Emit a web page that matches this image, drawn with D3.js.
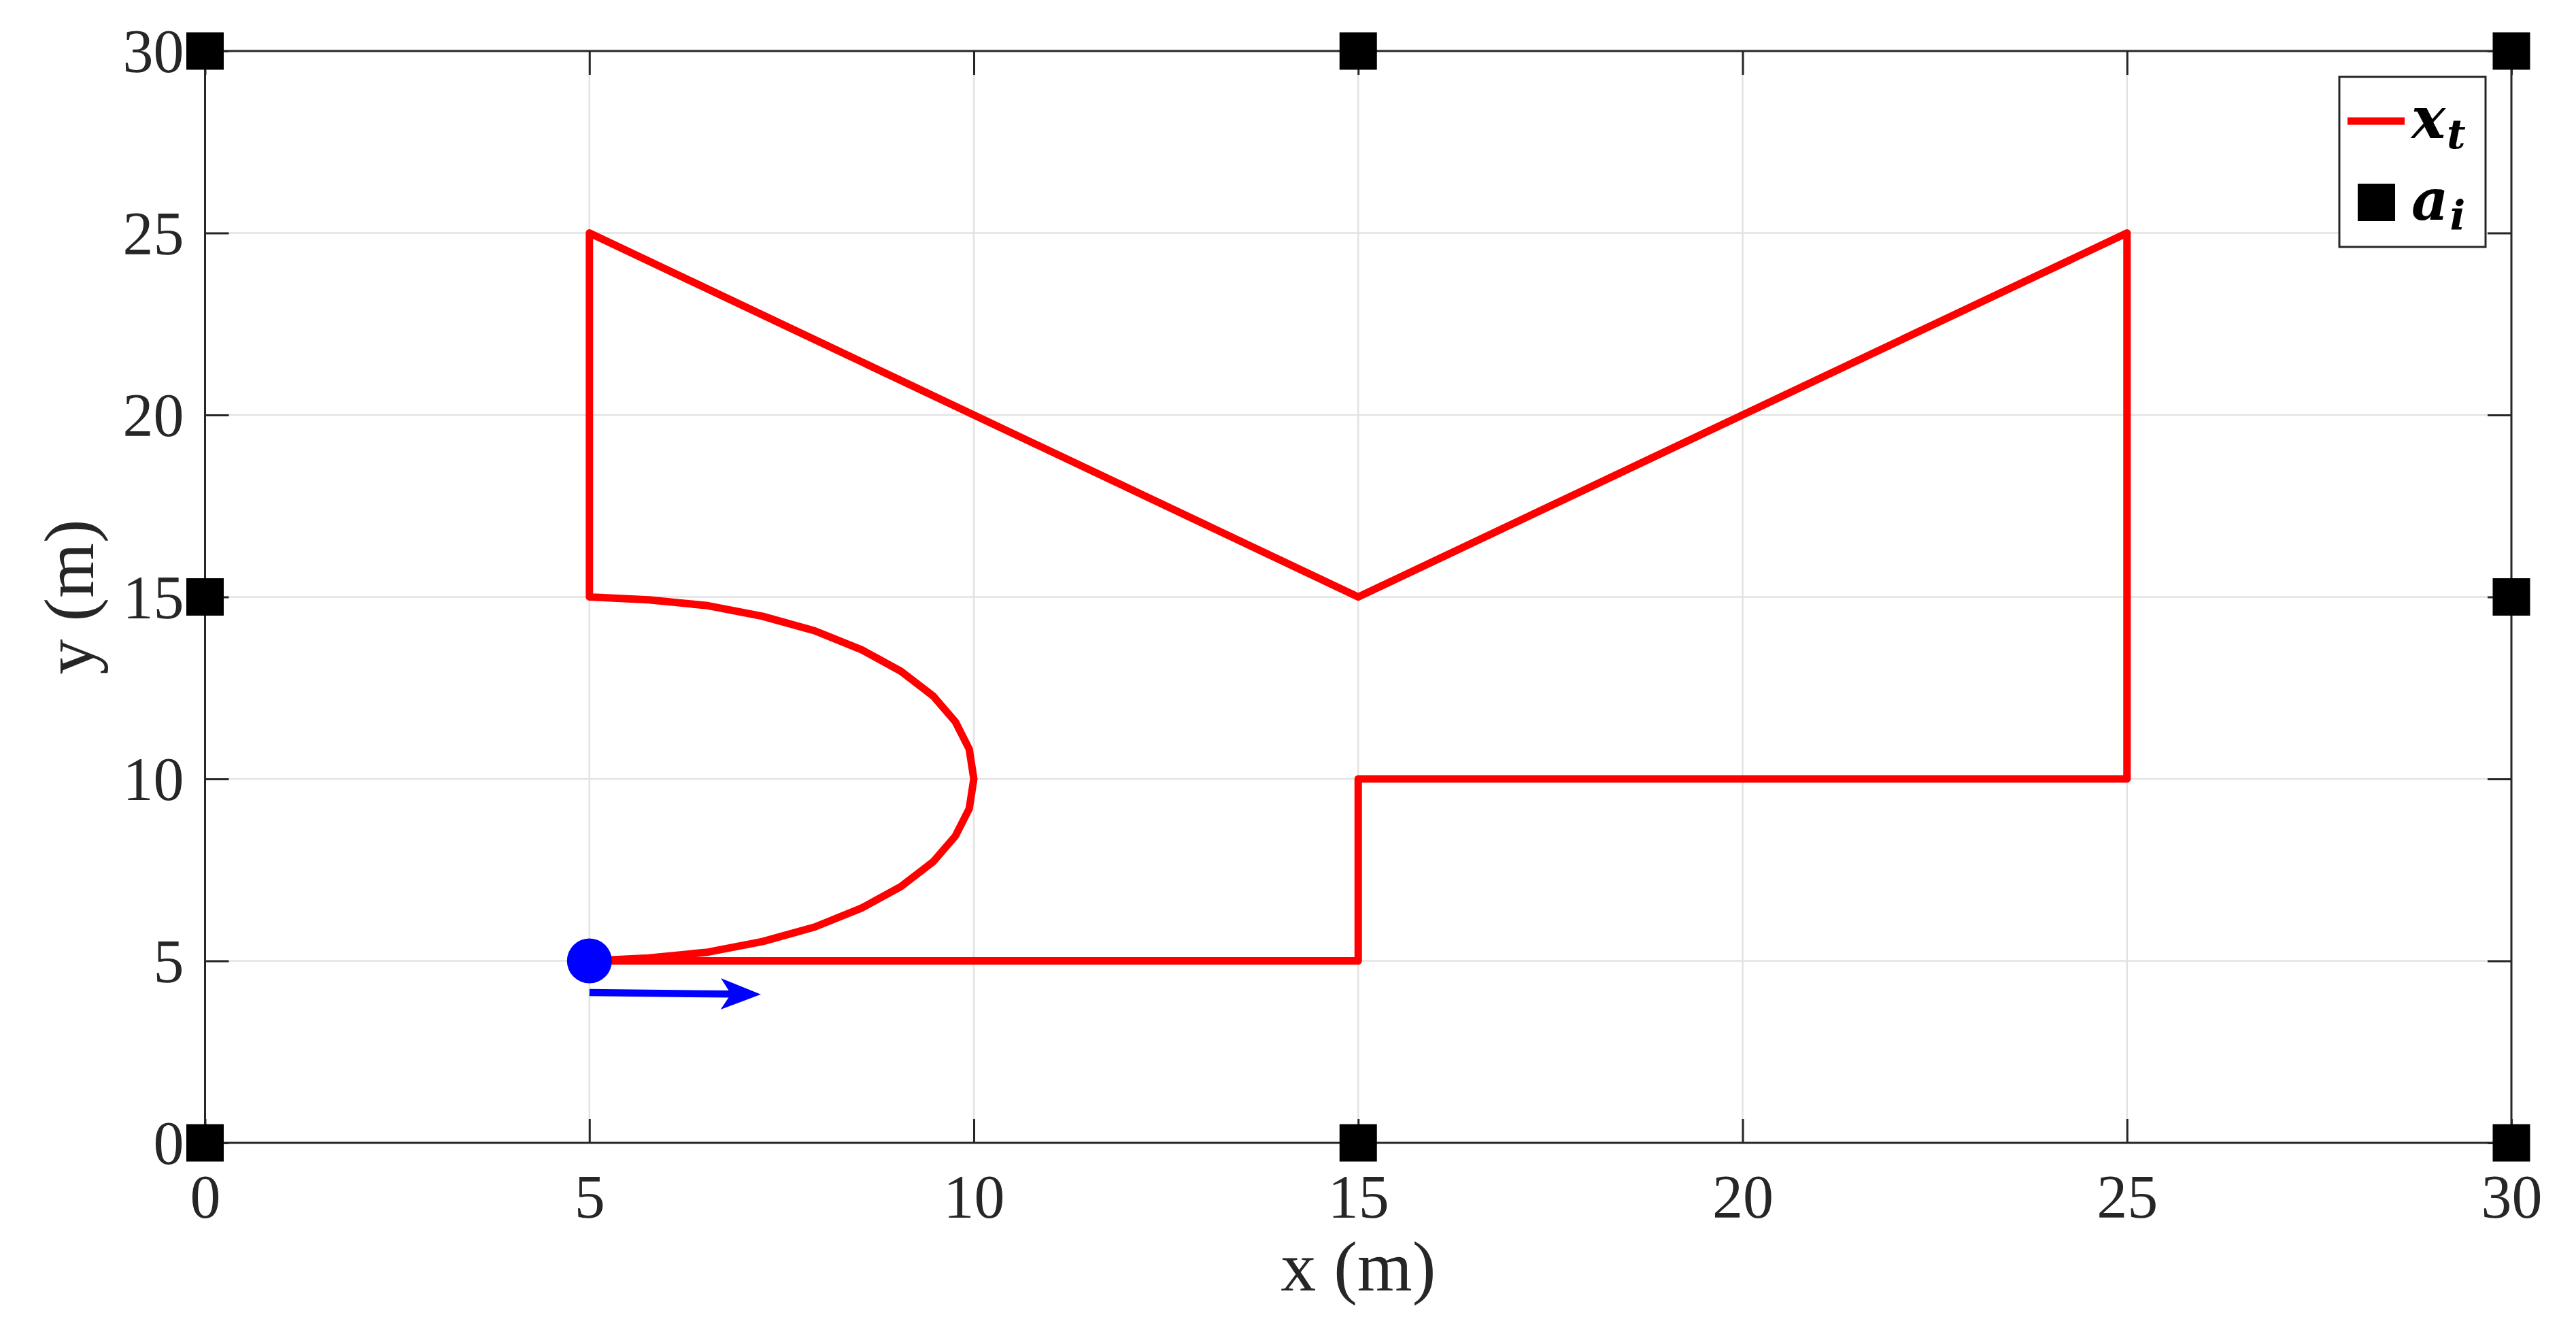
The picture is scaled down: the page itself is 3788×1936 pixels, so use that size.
<!DOCTYPE html>
<html>
<head>
<meta charset="utf-8">
<script src="https://cdn.jsdelivr.net/npm/d3@7"></script>
<style>
body { margin: 0; background: #fff; }
text { font-family: "Liberation Serif", "Times New Roman", serif; fill: #262626; }
</style>
</head>
<body>
<div id="chart"></div>
<script>
// ticks
var xTicks = [0, 5, 10, 15, 20, 25, 30];
var yTicks = [0, 5, 10, 15, 20, 25, 30];

// trajectory x_t
var pathX = [5, 15, 15, 25, 25, 15, 5, 5,
    5.77, 6.54, 7.25, 7.93, 8.54, 9.05, 9.47, 9.76, 9.94, 10,
    9.94, 9.76, 9.47, 9.05, 8.54, 7.93, 7.25, 6.54, 5.77, 5];
var pathY = [5, 5, 10, 10, 25, 15, 25, 15,
    14.92, 14.76, 14.47, 14.07, 13.55, 12.96, 12.28, 11.57, 10.82, 10,
    9.18, 8.43, 7.72, 7.04, 6.45, 5.93, 5.53, 5.24, 5.08, 5];

// anchors a_i
var anchorX = [0, 15, 30, 0, 30, 0, 15, 30];
var anchorY = [0, 0, 0, 15, 15, 30, 30, 30];

// start point and heading arrow
var startX = [5];
var startY = [5];
var arrowFrom = [5, 4.13];
var arrowTo = [7.23, 4.08];

var W = 3788, H = 1936;
var plot = { left: 301.5, right: 3693, top: 75, bottom: 1680 };

var svg = d3.select("#chart").append("svg")
    .attr("width", W)
    .attr("height", H);

var x = d3.scaleLinear().domain([0, 30]).range([plot.left, plot.right]);
var y = d3.scaleLinear().domain([0, 30]).range([plot.bottom, plot.top]);

// grid
var grid = svg.append("g").attr("class", "grid");
grid.selectAll(".gx")
    .data(xTicks)
    .enter()
    .append("line")
    .attr("x1", function (d) { return x(d); })
    .attr("x2", function (d) { return x(d); })
    .attr("y1", plot.top)
    .attr("y2", plot.bottom)
    .style("stroke", "#e3e3e3")
    .style("stroke-width", "2.5px");
grid.selectAll(".gy")
    .data(yTicks)
    .enter()
    .append("line")
    .attr("y1", function (d) { return y(d); })
    .attr("y2", function (d) { return y(d); })
    .attr("x1", plot.left)
    .attr("x2", plot.right)
    .style("stroke", "#e3e3e3")
    .style("stroke-width", "2.5px");

// trajectory
var pts = pathX.map(function (d, i) { return [d, pathY[i]]; });
var line = d3.line()
    .x(function (d) { return x(d[0]); })
    .y(function (d) { return y(d[1]); });
svg.append("path")
    .datum(pts)
    .attr("d", line)
    .attr("fill", "none")
    .attr("stroke", "#ff0000")
    .attr("stroke-width", 11)
    .attr("stroke-linejoin", "round");

// axes, ticks pointing inwards on all four sides
var tickLen = 35;
var styleAxis = function (g) {
    g.select(".domain").remove();
    g.selectAll(".tick line")
        .attr("stroke", "#262626")
        .attr("stroke-width", 3);
    g.selectAll("text")
        .style("font-family", "'Liberation Serif', 'Times New Roman', serif")
        .style("font-size", "90px")
        .attr("fill", "#262626");
};
var gb = svg.append("g")
    .attr("transform", "translate(0," + plot.bottom + ")")
    .call(d3.axisBottom(x).tickValues(xTicks).tickSize(-tickLen).tickFormat(d3.format("d")))
    .call(styleAxis);
gb.selectAll("text").attr("y", 110).attr("dy", 0);

var gl = svg.append("g")
    .attr("transform", "translate(" + plot.left + ",0)")
    .call(d3.axisLeft(y).tickValues(yTicks).tickSize(-tickLen).tickFormat(d3.format("d")))
    .call(styleAxis);
gl.selectAll("text").attr("x", -31).attr("dy", "0.34em").attr("text-anchor", "end");

svg.append("g")
    .attr("transform", "translate(0," + plot.top + ")")
    .call(d3.axisTop(x).tickValues(xTicks).tickSize(-tickLen).tickFormat(""))
    .call(styleAxis);
svg.append("g")
    .attr("transform", "translate(" + plot.right + ",0)")
    .call(d3.axisRight(y).tickValues(yTicks).tickSize(-tickLen).tickFormat(""))
    .call(styleAxis);

svg.append("rect")
    .attr("x", plot.left)
    .attr("y", plot.top)
    .attr("width", plot.right - plot.left)
    .attr("height", plot.bottom - plot.top)
    .attr("fill", "none")
    .attr("stroke", "#262626")
    .attr("stroke-width", 3);

// axis labels
svg.append("text")
    .attr("x", (plot.left + plot.right) / 2)
    .attr("y", 1897)
    .attr("text-anchor", "middle")
    .style("font-size", "104px")
    .text("x (m)");
svg.append("text")
    .attr("transform", "translate(137," + (plot.top + plot.bottom) / 2 + ") rotate(-90)")
    .attr("text-anchor", "middle")
    .style("font-size", "104px")
    .text("y (m)");

// anchors
var sq = 55;
svg.selectAll(".anchor")
    .data(anchorX)
    .enter()
    .append("rect")
    .attr("class", "anchor")
    .attr("x", function (d) { return x(d) - sq / 2; })
    .attr("y", function (d, i) { return y(anchorY[i]) - sq / 2; })
    .attr("width", sq)
    .attr("height", sq)
    .attr("fill", "#000");

// heading arrow
var ax0 = x(arrowFrom[0]), ay0 = y(arrowFrom[1]);
var ax1 = x(arrowTo[0]), ay1 = y(arrowTo[1]);
var ang = Math.atan2(ay1 - ay0, ax1 - ax0);
var headLen = 59, headHalf = 23, notch = 44;
var rot = function (dx, dy) {
    return [ax1 + dx * Math.cos(ang) - dy * Math.sin(ang),
        ay1 + dx * Math.sin(ang) + dy * Math.cos(ang)];
};
var nb = rot(-notch, 0);
svg.append("line")
    .attr("x1", ax0)
    .attr("y1", ay0)
    .attr("x2", nb[0])
    .attr("y2", nb[1])
    .attr("stroke", "#0000ff")
    .attr("stroke-width", 10.5);
svg.append("path")
    .attr("d", d3.line()([rot(0, 0), rot(-headLen, -headHalf), nb, rot(-headLen, headHalf)]) + "Z")
    .attr("fill", "#0000ff");

// start point
svg.selectAll(".start")
    .data(startX)
    .enter()
    .append("circle")
    .attr("cx", function (d) { return x(d); })
    .attr("cy", function (d, i) { return y(startY[i]); })
    .attr("r", 33)
    .attr("fill", "#0000ff");

// legend
var lg = svg.append("g").attr("class", "legend");
lg.append("rect")
    .attr("x", 3440)
    .attr("y", 113)
    .attr("width", 215)
    .attr("height", 250)
    .attr("fill", "#fff")
    .attr("stroke", "#262626")
    .attr("stroke-width", 3);
lg.append("line")
    .attr("x1", 3452)
    .attr("x2", 3536)
    .attr("y1", 178)
    .attr("y2", 178)
    .attr("stroke", "#ff0000")
    .attr("stroke-width", 11);
lg.append("rect")
    .attr("x", 3467)
    .attr("y", 270)
    .attr("width", sq)
    .attr("height", sq)
    .attr("fill", "#000");
var legText = function (yy, main, sub) {
    var t = lg.append("text")
        .attr("x", 3546)
        .attr("y", yy)
        .style("font-family", "'DejaVu Serif', serif")
        .style("font-weight", "bold")
        .style("font-style", "italic")
        .style("font-size", "84px")
        .style("fill", "#000");
    t.append("tspan").text(main);
    t.append("tspan")
        .attr("dy", 15)
        .attr("dx", 2)
        .style("font-size", "60px")
        .text(sub);
};
legText(203, "x", "t");
legText(323, "a", "i");
</script>
</body>
</html>
